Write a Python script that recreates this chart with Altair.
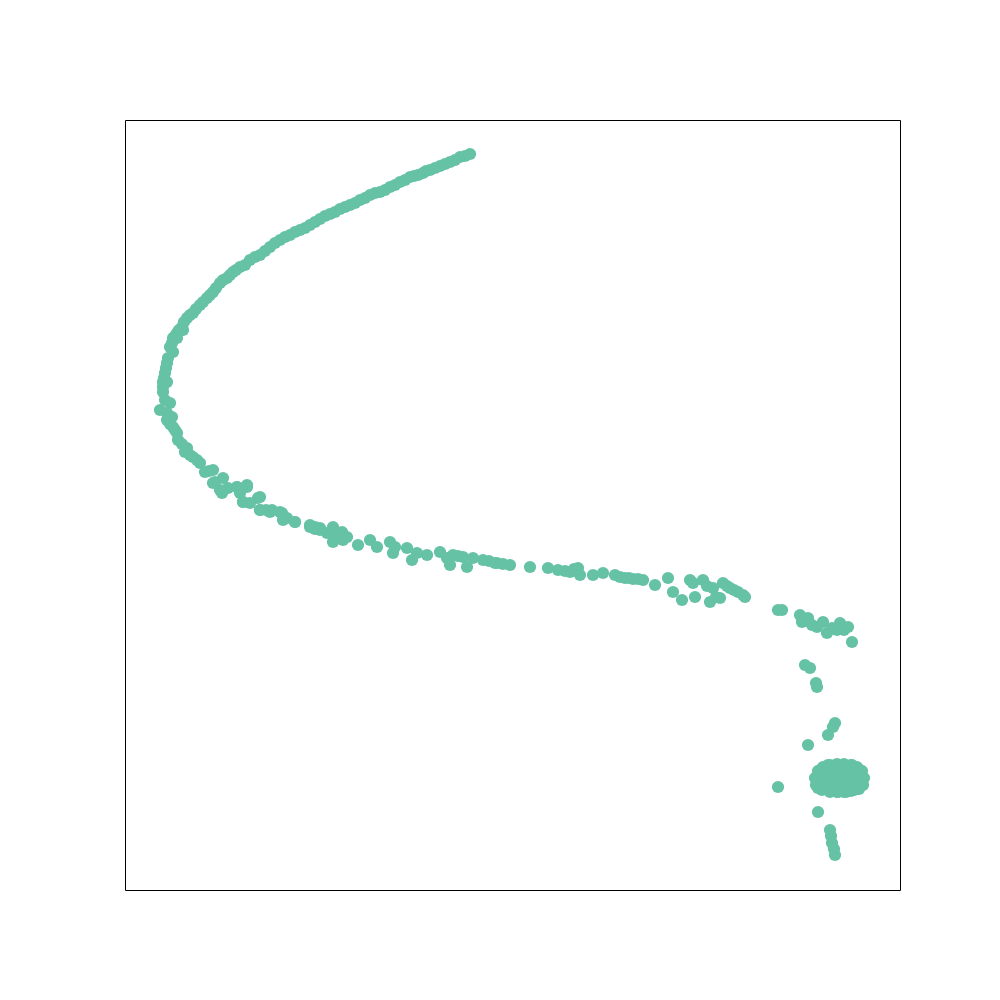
import altair as alt
import pandas as pd

# Coordinates (x to the right, y downward as in the picture frame)
arc_x = [470, 465, 460, 455, 450, 445, 440, 435, 430, 426, 423, 418, 414, 410, 405, 400, 395, 390, 385, 380,
         375, 370, 365, 360, 355, 350, 345, 340, 335, 330, 325, 320, 315, 310, 305, 300, 295, 290, 285, 280,
         275, 270, 265, 260, 255, 250, 245, 240, 236, 233, 230, 227, 223, 220, 216, 213, 210, 207, 203, 200,
         196, 193, 190, 187, 184, 182, 179, 177, 175, 173]
arc_y = [154, 156, 157, 160, 162, 164, 166, 168, 170, 171, 173, 175, 176, 177, 180, 182, 185, 187, 190, 192,
         193, 195, 198, 200, 203, 205, 207, 209, 212, 214, 216, 219, 222, 225, 228, 230, 232, 235, 237, 240,
         243, 247, 251, 255, 257, 260, 265, 267, 270, 272, 275, 278, 280, 283, 288, 292, 295, 298, 302, 305,
         309, 313, 315, 318, 322, 327, 330, 333, 336, 338]

bend_x = [183, 177, 172, 170, 173, 168, 167, 166, 165, 164, 163, 167, 163, 163, 165, 170, 160, 167, 172, 167,
          170, 173, 175, 177, 178, 182, 187, 185, 190, 193, 197, 200, 205, 209, 213, 215, 223, 220, 228, 237,
          247, 240, 243, 258, 260, 266, 272, 280, 287, 295, 310, 315, 320, 333]
bend_y = [330, 338, 343, 347, 352, 358, 363, 368, 373, 378, 382, 382, 387, 392, 400, 403, 410, 413, 417, 420,
          424, 427, 430, 433, 440, 444, 448, 452, 455, 457, 460, 463, 472, 471, 470, 482, 478, 490, 488, 487,
          485, 493, 502, 498, 510, 510, 510, 512, 518, 522, 525, 527, 528, 527]

mid_x = [213, 222, 237, 247, 243, 250, 260, 260, 270, 282, 283, 295, 310, 315, 320, 327, 333, 333, 338, 342,
         347, 343, 358, 370, 377, 390, 393, 395, 407, 412, 417, 427, 440, 447, 453, 450, 458, 463, 467, 473,
         483, 489, 495]
mid_y = [483, 493, 487, 487, 502, 503, 497, 510, 512, 513, 520, 522, 527, 529, 530, 533, 530, 542, 535, 532,
         537, 540, 545, 540, 547, 542, 553, 547, 548, 560, 553, 555, 552, 558, 555, 565, 556, 557, 567, 558,
         560, 561, 563]

tail_x = [497, 503, 510, 530, 548, 558, 565, 570, 574, 578, 580, 593, 603, 615, 620, 625, 629, 633, 638, 643,
          655, 668, 673, 682, 690, 693, 695, 703, 707, 710, 713, 716, 720, 723, 727, 730, 734, 738, 743, 745, 778]
tail_y = [563, 564, 565, 567, 568, 570, 571, 572, 569, 568, 575, 575, 573, 575, 577, 578, 578, 579, 579, 580,
          585, 578, 592, 600, 580, 583, 597, 580, 586, 602, 588, 597, 598, 583, 586, 588, 590, 592, 595, 597, 610]

right_x = [782, 800, 808, 802, 812, 817, 823, 827, 832, 837, 840, 844, 848, 852, 805, 810, 816, 817, 835, 833,
           828, 808, 778, 818, 830, 831, 832, 834, 835]
right_y = [610, 615, 618, 622, 625, 627, 622, 633, 628, 630, 623, 630, 627, 642, 665, 668, 683, 687, 723, 727,
           735, 745, 787, 812, 830, 836, 843, 849, 855]

blob_x = [816, 824, 832, 840, 848, 856, 863, 820, 828, 836, 844, 852, 860, 816, 824, 832, 840, 848, 856, 863,
          822, 830, 838, 846, 854, 828, 836, 844, 852, 830, 838, 846, 859, 818,
          864, 862, 862, 857, 857, 851, 851, 844, 844, 837, 837, 830, 830, 823, 823, 818, 818, 815]
blob_y = [778, 778, 778, 778, 778, 778, 778, 770, 770, 770, 770, 770, 770, 785, 785, 785, 785, 785, 785, 785,
          790, 790, 790, 790, 790, 765, 765, 765, 765, 792, 792, 792, 789, 788,
          778, 771, 785, 767, 789, 765, 791, 764, 792, 764, 792, 765, 791, 767, 789, 771, 785, 778]

xs = arc_x + bend_x + mid_x + tail_x + right_x + blob_x
ys = arc_y + bend_y + mid_y + tail_y + right_y + blob_y
df = pd.DataFrame({"x": xs, "y": ys})

chart = alt.Chart(df).mark_circle(size=150, color="#66c2a5", opacity=1).encode(
    x=alt.X("x:Q", scale=alt.Scale(domain=[125, 900], nice=False, zero=False), axis=None),
    y=alt.Y("y:Q", scale=alt.Scale(domain=[890, 120], nice=False, zero=False), axis=None),
).properties(
    width=775, height=770,
    padding={"left": 125, "top": 120, "right": 10, "bottom": 10},
).configure_view(stroke="black", strokeWidth=1)

chart.save("out.html", embed_options={"renderer": "svg", "actions": False})
